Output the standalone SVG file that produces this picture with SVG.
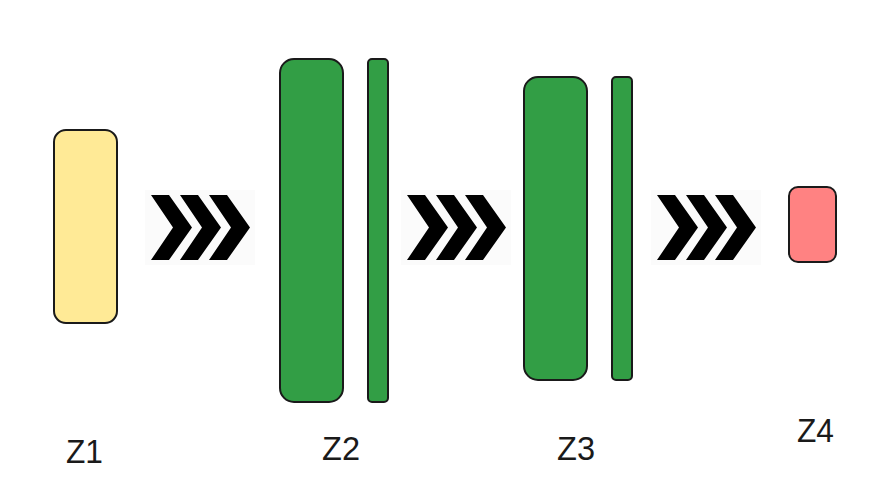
<svg xmlns="http://www.w3.org/2000/svg" width="891" height="495" viewBox="0 0 891 495">
<style>
.box{stroke:#1a1a1a;stroke-width:2}
.y{fill:#FFEA96}
.g{fill:#329E45}
.r{fill:#FF8282}
.lbl{font-family:"Liberation Sans",Arial,sans-serif;font-size:33px;fill:#1a1a1a}
.chev{fill:#000}
.bg{fill:#fbfbfb}
</style>
<defs>
<polygon id="ch" points="0,0 18,0 41,32.5 18,65 0,65 22,32.5"/>
<g id="chevs">
<rect class="bg" x="-6" y="-5" width="110" height="75"/>
<use href="#ch" class="chev" x="0"/>
<use href="#ch" class="chev" x="29"/>
<use href="#ch" class="chev" x="58"/>
</g>
</defs>
<g id="Z1">
<rect class="box y" x="54" y="130" width="63" height="193" rx="12"/>
<text class="lbl" x="66" y="463" textLength="37" lengthAdjust="spacingAndGlyphs">Z1</text>
</g>
<g id="Z2">
<rect class="box g" x="280" y="59" width="63" height="343" rx="14"/>
<rect class="box g" x="368" y="59" width="20" height="343" rx="4"/>
<text class="lbl" x="322" y="460" textLength="38" lengthAdjust="spacingAndGlyphs">Z2</text>
</g>
<g id="Z3">
<rect class="box g" x="524" y="77" width="63" height="303" rx="14"/>
<rect class="box g" x="612" y="77" width="20" height="303" rx="4"/>
<text class="lbl" x="557" y="460" textLength="38" lengthAdjust="spacingAndGlyphs">Z3</text>
</g>
<g id="Z4">
<rect class="box r" x="789" y="187" width="47" height="75" rx="9"/>
<text class="lbl" x="797" y="442" textLength="37" lengthAdjust="spacingAndGlyphs">Z4</text>
</g>
<g id="connectors">
<use href="#chevs" x="151" y="195"/>
<use href="#chevs" x="407" y="195"/>
<use href="#chevs" x="657" y="195"/>
</g>
</svg>
